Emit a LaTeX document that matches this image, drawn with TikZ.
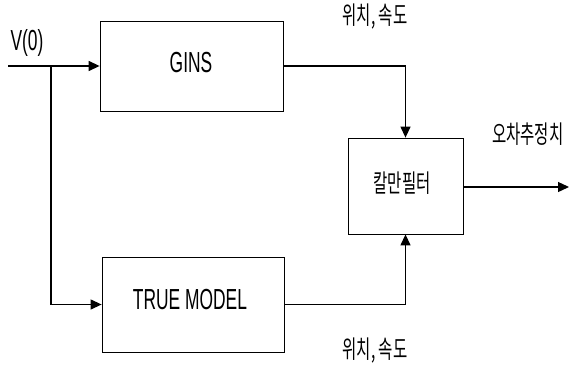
\documentclass[tikz,border=0pt]{standalone}
\usepackage{fontspec}
\setmainfont{Liberation Sans}[FakeStretch=0.6]
\newfontfamily\kr{Noto Sans CJK KR}[FakeStretch=0.62]
\usetikzlibrary{arrows.meta}
\begin{document}
\begin{tikzpicture}[x=1pt,y=-1pt,
  blk/.style={draw, line width=0.8pt, inner sep=0pt, rectangle},
  conn/.style={line width=1.3pt},
  arr/.style={conn, -{Triangle[length=11pt,width=10pt]}},
  lbl/.style={inner sep=0pt, font=\fontsize{29}{31}\selectfont},
  krl/.style={inner sep=0pt, font=\kr\fontsize{25}{27}\selectfont}]
\useasboundingbox (0,0) rectangle (569,369);
\clip (0,0) rectangle (569,369);
\node[blk, minimum width=183pt, minimum height=90pt] (gins) at (191.5,66) {};
\node[lbl] at (191,62.5) {GINS};
\node[blk, minimum width=182pt, minimum height=95pt] (true) at (193,304.5) {};
\node[lbl] at (190,300) {TRUE MODEL};
\node[blk, minimum width=115pt, minimum height=96pt] (kal) at (405.5,186) {};
\node[krl] at (402,183.5) {칼만필터};
\node[lbl] (v0) at (27,43) {V(0)};
\node[krl] (t1) at (375,17) {위치, 속도};
\node[krl] (t2) at (375,351) {위치, 속도};
\node[krl, anchor=west] (t3) at (492,134) {오차추정치};
\coordinate (in) at (8,66);
\coordinate (br) at (51,66);
\coordinate (out) at (569,187);
\draw[arr] (in) -- (gins.west);
\draw[arr] (br) |- (true.west);
\draw[arr] (gins.east) -| (kal.north);
\draw[arr] (true.east) -| (kal.south);
\draw[arr] (kal.east |- out) -- (out);
\end{tikzpicture}
\end{document}
